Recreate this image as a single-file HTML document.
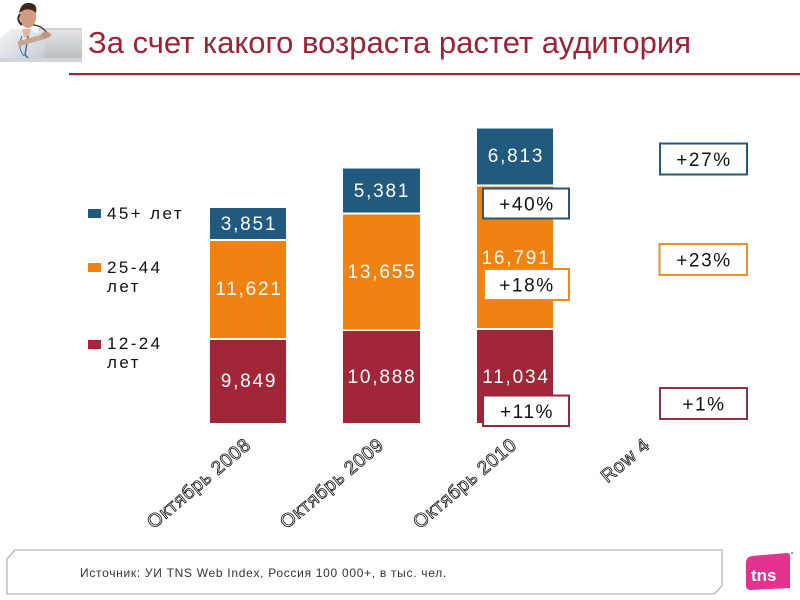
<!DOCTYPE html>
<html>
<head>
<meta charset="utf-8">
<style>
html,body{margin:0;padding:0;background:#fff;}
body{width:800px;height:600px;overflow:hidden;}
svg{display:block;}
.t{font-family:"Liberation Sans","DejaVu Sans",sans-serif;}
</style>
</head>
<body>
<svg width="800" height="600" viewBox="0 0 800 600" xmlns="http://www.w3.org/2000/svg">
  <rect x="0" y="0" width="800" height="600" fill="#ffffff"/>

  <!-- Photo (doctor with laptop) approximation -->
  <g>
    <defs>
      <linearGradient id="lap" x1="0" y1="0" x2="0" y2="1">
        <stop offset="0" stop-color="#e4e6e8"/>
        <stop offset="1" stop-color="#b9bdc1"/>
      </linearGradient>
      <linearGradient id="coat" x1="0" y1="0" x2="1" y2="1">
        <stop offset="0" stop-color="#f2f5f7"/>
        <stop offset="1" stop-color="#c3ccd3"/>
      </linearGradient>
    </defs>
    <rect x="38" y="28" width="44" height="32" fill="url(#lap)"/>
    <rect x="38" y="28" width="44" height="2" fill="#cfd3d6"/>
    <polygon points="0,38 12,29 30,30 40,34 46,42 42,60 0,60" fill="url(#coat)"/>
    <polygon points="22,29 31,29 29,37 24,37" fill="#e2b89c"/>
    <ellipse cx="28" cy="17" rx="8" ry="11" fill="#d39c80"/>
    <path d="M19,13 Q21,2 30,3 Q38,4 36,13 Q31,8 24,10 Z" fill="#3b2a20"/>
    <path d="M20,14 Q16,20 22,25" stroke="#3b2a20" stroke-width="2" fill="none"/>
    <path d="M28,36 L25,55 L30,60" stroke="#3c6fb0" stroke-width="1.5" fill="none"/>
    <path d="M22,36 Q17,48 24,56" stroke="#3c6fb0" stroke-width="1" fill="none"/>
    <path d="M33,25 Q41,25 47,33" stroke="#333" stroke-width="1.2" fill="none"/>
    <path d="M18,44 Q32,40 46,36" stroke="#c9a58e" stroke-width="5" fill="none"/>
    <ellipse cx="46" cy="35" rx="5" ry="3" fill="#c4937a"/>
    <rect x="0" y="58" width="82" height="4" fill="#d3d6d8"/>
  </g>

  <!-- Title -->
  <text class="t" x="88" y="53" font-size="31" fill="#9b2335">За счет какого возраста растет аудитория</text>
  <rect x="69" y="73" width="731" height="2.2" fill="#9b2335"/>

  <!-- Legend -->
  <rect x="88" y="209" width="13" height="9" fill="#215a7f"/>
  <text class="t" x="107" y="219" font-size="17" letter-spacing="2.4" fill="#111">45+ лет</text>
  <rect x="88" y="263" width="13" height="9" fill="#ef8210"/>
  <text class="t" x="107" y="273" font-size="17" letter-spacing="2.4" fill="#111">25-44</text>
  <text class="t" x="107" y="292" font-size="17" letter-spacing="2.4" fill="#111">лет</text>
  <rect x="88" y="340" width="13" height="9" fill="#a12638"/>
  <text class="t" x="107" y="349" font-size="17" letter-spacing="2.4" fill="#111">12-24</text>
  <text class="t" x="107" y="368" font-size="17" letter-spacing="2.4" fill="#111">лет</text>

  <!-- Bars -->
  <rect x="210" y="208" width="76" height="31" fill="#215a7f"/>
  <rect x="210" y="241" width="76" height="97" fill="#ef8210"/>
  <rect x="210" y="340" width="76" height="83" fill="#a12638"/>
  <rect x="343" y="168.5" width="77" height="44" fill="#215a7f"/>
  <rect x="343" y="214.5" width="77" height="115" fill="#ef8210"/>
  <rect x="343" y="331" width="77" height="92" fill="#a12638"/>
  <rect x="477" y="128.5" width="76" height="56" fill="#215a7f"/>
  <rect x="477" y="186.5" width="76" height="141.5" fill="#ef8210"/>
  <rect x="477" y="330" width="76" height="93" fill="#a12638"/>

  <!-- Bar values -->
  <g class="t" font-size="19" letter-spacing="1.8" fill="#ffffff" text-anchor="middle">
    <text x="249" y="230">3,851</text>
    <text x="249" y="295">11,621</text>
    <text x="249" y="387">9,849</text>
    <text x="382" y="197">5,381</text>
    <text x="382" y="278">13,655</text>
    <text x="382" y="383">10,888</text>
    <text x="516" y="162">6,813</text>
    <text x="516" y="264">16,791</text>
    <text x="516" y="383">11,034</text>
  </g>

  <!-- Percentage boxes near bar 3 -->
  <rect x="483" y="188.5" width="86" height="30" fill="#fff" stroke="#2a5670" stroke-width="2"/>
  <rect x="484" y="269" width="85" height="31" fill="#fff" stroke="#ee8a1e" stroke-width="2"/>
  <rect x="483" y="395.5" width="86" height="30.5" fill="#fff" stroke="#8e2a3b" stroke-width="2"/>
  <!-- Right boxes -->
  <rect x="660" y="143.5" width="87" height="31" fill="#fff" stroke="#275a7a" stroke-width="2"/>
  <rect x="659.5" y="244" width="87.5" height="31" fill="#fff" stroke="#e8912a" stroke-width="2"/>
  <rect x="660" y="388" width="87" height="31" fill="#fff" stroke="#8e3347" stroke-width="2"/>

  <g class="t" font-size="19" letter-spacing="1.6" fill="#111" text-anchor="middle">
    <text x="527" y="210.5">+40%</text>
    <text x="527" y="291.5">+18%</text>
    <text x="527" y="418">+11%</text>
    <text x="704" y="166">+27%</text>
    <text x="704" y="266.5">+23%</text>
    <text x="704" y="410.5">+1%</text>
  </g>

  <!-- X labels -->
  <g class="t" font-size="19" letter-spacing="0.6" fill="#ffffff" stroke="#111" stroke-width="0.8" text-anchor="end">
    <text transform="translate(252,447) rotate(-40)">Октябрь 2008</text>
    <text transform="translate(385,447) rotate(-40)">Октябрь 2009</text>
    <text transform="translate(518,447) rotate(-40)">Октябрь 2010</text>
    <text transform="translate(651,447) rotate(-40)">Row 4</text>
  </g>

  <!-- Footer -->
  <polygon points="15,550 722,550 722,586 714,594 7,594 7,559" fill="#fff" stroke="#a3a3a3" stroke-width="1"/>
  <text class="t" x="80" y="577" font-size="12" letter-spacing="0.7" fill="#333">Источник: УИ TNS Web Index, Россия 100 000+, в тыс. чел.</text>

  <!-- TNS logo -->
  <path d="M752,556 L787,553 Q790,553 790,556 L790,588 L751,590 Q746,590 746,586 L746,563 Q746,557 752,556 Z" fill="#e2338e"/>
  <text class="t" x="751" y="581" font-size="17" font-weight="bold" fill="#ffffff">tns</text>
  <rect x="791" y="552" width="2" height="2" fill="#999"/>
</svg>
</body>
</html>
